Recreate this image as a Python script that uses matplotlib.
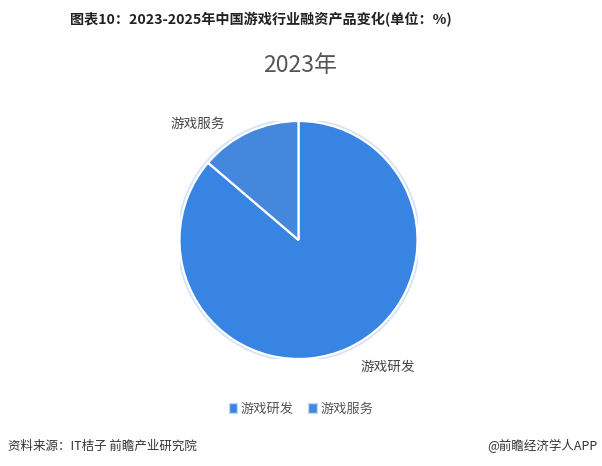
import matplotlib.pyplot as plt
from matplotlib.patches import Circle, Patch

plt.rcParams['font.family'] = ['Noto Sans CJK SC', 'DejaVu Sans']

# 数据
labels = ['游戏研发', '游戏服务']
values = [86.25, 13.75]
colors = ['#3784e2', '#4587dc']

title = '图表10：2023-2025年中国游戏行业融资产品变化(单位：%)'
subtitle = '2023年'
source = '资料来源：IT桔子 前瞻产业研究院'
brand = '@前瞻经济学人APP'

W, H = 602, 466
fig = plt.figure(figsize=(W / 100, H / 100), dpi=100)
fig.patch.set_facecolor('white')

# 饼图位置 (像素)
cx, cy, r = 298.5, 240, 119
ax = fig.add_axes([(cx - r) / W, (H - cy - r) / H, 2 * r / W, 2 * r / H])
ax.add_patch(Circle((0, 0), 1.018, color='#d3e2f6', zorder=0))
wedges, _ = ax.pie(values, colors=colors, startangle=90, counterclock=False,
                   radius=1.0,
                   wedgeprops=dict(edgecolor='white', linewidth=1.6))
for w in wedges:
    w.set_zorder(1)
ax.set_xlim(-1, 1)
ax.set_ylim(-1, 1)
ax.set_aspect('equal')
ax.axis('off')

# 扇区标签
ax.text(-0.845, 0.975, labels[1], ha='center', va='center', fontsize=9.8,
        color='#444444', clip_on=False)
ax.text(0.752, -1.067, labels[0], ha='center', va='center', fontsize=9.8,
        color='#444444', clip_on=False)

fig.text(0.433, 1 - 20 / H, title, ha='center', va='center', fontsize=10.2,
         fontweight='bold', color='#222222')
fig.text(0.4983, 1 - 66 / H, subtitle, ha='center', va='center', fontsize=16.5,
         fontweight='medium', color='#555555')

handles = [Patch(facecolor=c, edgecolor='#c8daf3', linewidth=1.0) for c in colors]
fig.legend(handles, labels, loc='center', bbox_to_anchor=(0.5, 1 - 409 / H),
           ncol=2, frameon=False, fontsize=9.5, handlelength=0.65, handleheight=0.7,
           handletextpad=0.25, columnspacing=1.1, labelcolor='#555555')

fig.text(8 / W, 1 - 446 / H, source, ha='left', va='center', fontsize=9,
         color='#333333')
fig.text(597 / W, 1 - 446 / H, brand, ha='right', va='center', fontsize=9,
         color='#333333')

fig.savefig('out.png', dpi=100)
